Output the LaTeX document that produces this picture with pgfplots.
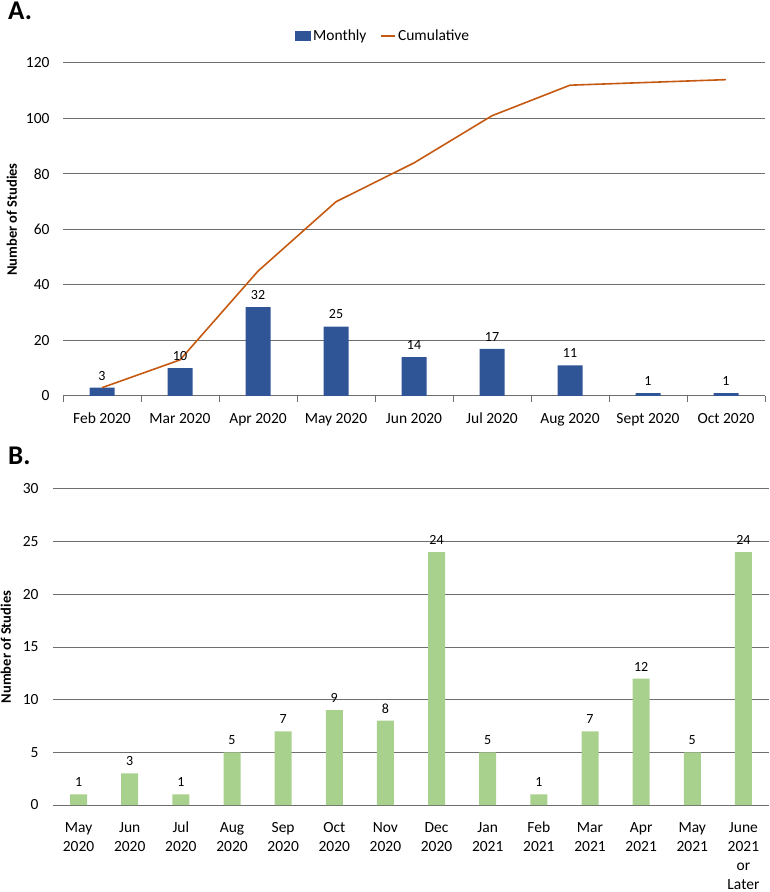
\documentclass[border=0pt]{standalone}
\usepackage{pgfplots}
\pgfplotsset{compat=1.18}
\usepackage{fontspec}
\setmainfont{Carlito}
\definecolor{barblue}{HTML}{2F5597}
\definecolor{lineor}{HTML}{C65911}
\definecolor{bargreen}{HTML}{A9D18E}
\definecolor{gridc}{HTML}{6E6E6E}
\pgfplotsset{
  common/.style={
    scale only axis,
    anchor=south west,
    /pgf/number format/assume math mode=true,
    ymajorgrids,
    grid style={gridc, line width=1pt},
    axis x line*=bottom,
    axis y line*=left,
    y axis line style={draw=none},
    x axis line style={gridc, line width=1pt},
    major tick length=0pt,
    tick label style={font=\fontsize{15.5}{19}\selectfont},
    ylabel={\bfseries Number of Studies},
    ylabel style={font=\fontsize{14.5}{17}\selectfont, anchor=center},
    yticklabel style={xshift=-10pt},
    clip=false,
  }
}
\begin{document}
\begin{tikzpicture}
\path[use as bounding box] (0pt,0pt) rectangle (770pt,892pt);
\node[anchor=base west, inner sep=0pt, font=\fontsize{27}{30}\selectfont\bfseries] at (8pt,872pt) {A.};
\node[anchor=base west, inner sep=0pt, font=\fontsize{27}{30}\selectfont\bfseries] at (8pt,427pt) {B.};

% Panel A
\begin{axis}[common,
  at={(63pt,496pt)}, width=702pt, height=333pt,
  xmin=-0.5, xmax=8.5, ymin=0, ymax=120,
  ytick={0,20,...,120},
  xtick={0,...,8},
  xticklabels={\strut Feb 2020,\strut Mar 2020,\strut Apr 2020,\strut May 2020,\strut Jun 2020,\strut Jul 2020,\strut Aug 2020,\strut Sept 2020,\strut Oct 2020},
  xticklabel style={yshift=-11pt},
  extra x ticks={-0.5,0.5,...,8.5},
  extra x tick labels={},
  extra x tick style={major tick length=6pt, tick align=outside, grid=none, tick style={gridc, line width=1pt}},
  ylabel style={at={(axis description cs:-0.073,0.53)}},
  legend style={at={(axis description cs:0.456,1.081)}, anchor=center, draw=none, fill=none,
     legend columns=2, font=\fontsize{15.5}{19}\selectfont,
     /tikz/every even column/.append style={column sep=12pt},
     legend cell align=left, inner sep=0pt},
]
\addplot[ybar, bar width=25pt, fill=barblue, draw=none,
  nodes near coords,
  every node near coord/.append style={font=\fontsize{14}{16}\selectfont, text=black, yshift=4pt},
  legend image code/.code={\fill[barblue] (0pt,-5pt) rectangle (16pt,5pt);}]
  coordinates {(0,3) (1,10) (2,32) (3,25) (4,14) (5,17) (6,11) (7,1) (8,1)};
\addlegendentry{Monthly}
\addplot[sharp plot, lineor, line width=1.6pt, no markers,
  legend image code/.code={\draw[lineor, line width=1.6pt] (0pt,0pt) -- (14pt,0pt);}]
  coordinates {(0,3) (1,13) (2,45) (3,70) (4,84) (5,101) (6,112) (7,113) (8,114)};
\addlegendentry{Cumulative}
\end{axis}

% Panel B
\begin{axis}[common,
  at={(53pt,87pt)}, width=716pt, height=316pt,
  xmin=-0.5, xmax=13.5, ymin=0, ymax=30,
  ytick={0,5,...,30},
  xtick={0,...,13},
  xticklabels={{\strut May\\2020},{\strut Jun\\2020},{\strut Jul\\2020},{\strut Aug\\2020},{\strut Sep\\2020},{\strut Oct\\2020},{\strut Nov\\2020},{\strut Dec\\2020},{\strut Jan\\2021},{\strut Feb\\2021},{\strut Mar\\2021},{\strut Apr\\2021},{\strut May\\2021},{\strut June\\2021\\or\\Later}},
  xticklabel style={align=center, yshift=-11pt, anchor=north},
  yticklabel style={xshift=-1pt},
  ylabel style={at={(axis description cs:-0.066,0.5)}},
]
\addplot[ybar, bar width=17pt, fill=bargreen, draw=none,
  nodes near coords,
  every node near coord/.append style={font=\fontsize{14}{16}\selectfont, text=black, yshift=4pt}]
  coordinates {(0,1) (1,3) (2,1) (3,5) (4,7) (5,9) (6,8) (7,24) (8,5) (9,1) (10,7) (11,12) (12,5) (13,24)};
\end{axis}
\end{tikzpicture}
\end{document}
